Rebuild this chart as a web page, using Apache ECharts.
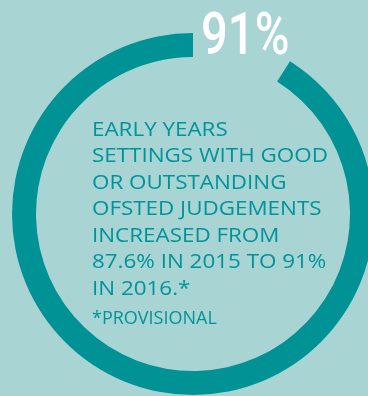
<!DOCTYPE html>
<html>
<head>
<meta charset="utf-8">
<script src="https://cdn.jsdelivr.net/npm/echarts@6/dist/echarts.min.js"></script>
<style>
  html, body { margin: 0; padding: 0; background: #a8d4d4; }
  #main { width: 368px; height: 396px; }
</style>
</head>
<body>
<div id="main"></div>
<script>
// share of settings judged good or outstanding
var names = ['Good or outstanding', 'Other'];
var values = [91, 9];
var headline = '91%';
var bodyLines = [
  'EARLY YEARS',
  'SETTINGS WITH GOOD',
  'OR OUTSTANDING',
  'OFSTED JUDGEMENTS',
  'INCREASED FROM',
  '87.6% IN 2015 TO 91%',
  'IN 2016.*'
];
var footnote = '*PROVISIONAL';

var teal = '#009294';

var chart = echarts.init(document.getElementById('main'), null, { renderer: 'canvas' });

var option = {
  backgroundColor: '#a8d4d4',
  animation: false,
  series: [
    {
      type: 'pie',
      center: [193, 214],
      radius: [157, 181],
      startAngle: 90,
      clockwise: false,
      silent: true,
      label: { show: false },
      labelLine: { show: false },
      data: values.map(function (v, i) {
        return {
          name: names[i],
          value: v,
          itemStyle: { color: i === 0 ? teal : 'rgba(0,0,0,0)' }
        };
      })
    }
  ],
  graphic: [
    {
      type: 'text',
      x: 201,
      y: 10,
      scaleX: 0.8,
      style: {
        text: headline,
        fill: '#ffffff',
        font: '500 59px Roboto'
      }
    },
    {
      type: 'text',
      x: 92,
      y: 117,
      scaleX: 1.12,
      style: {
        text: bodyLines.join('\n'),
        fill: '#00949a',
        font: '20px "Open Sans"',
        lineHeight: 26.5
      }
    },
    {
      type: 'text',
      x: 92,
      y: 310,
      style: {
        text: footnote,
        fill: '#00949a',
        font: '18px "Open Sans"'
      }
    }
  ]
};

chart.setOption(option);
</script>
</body>
</html>
